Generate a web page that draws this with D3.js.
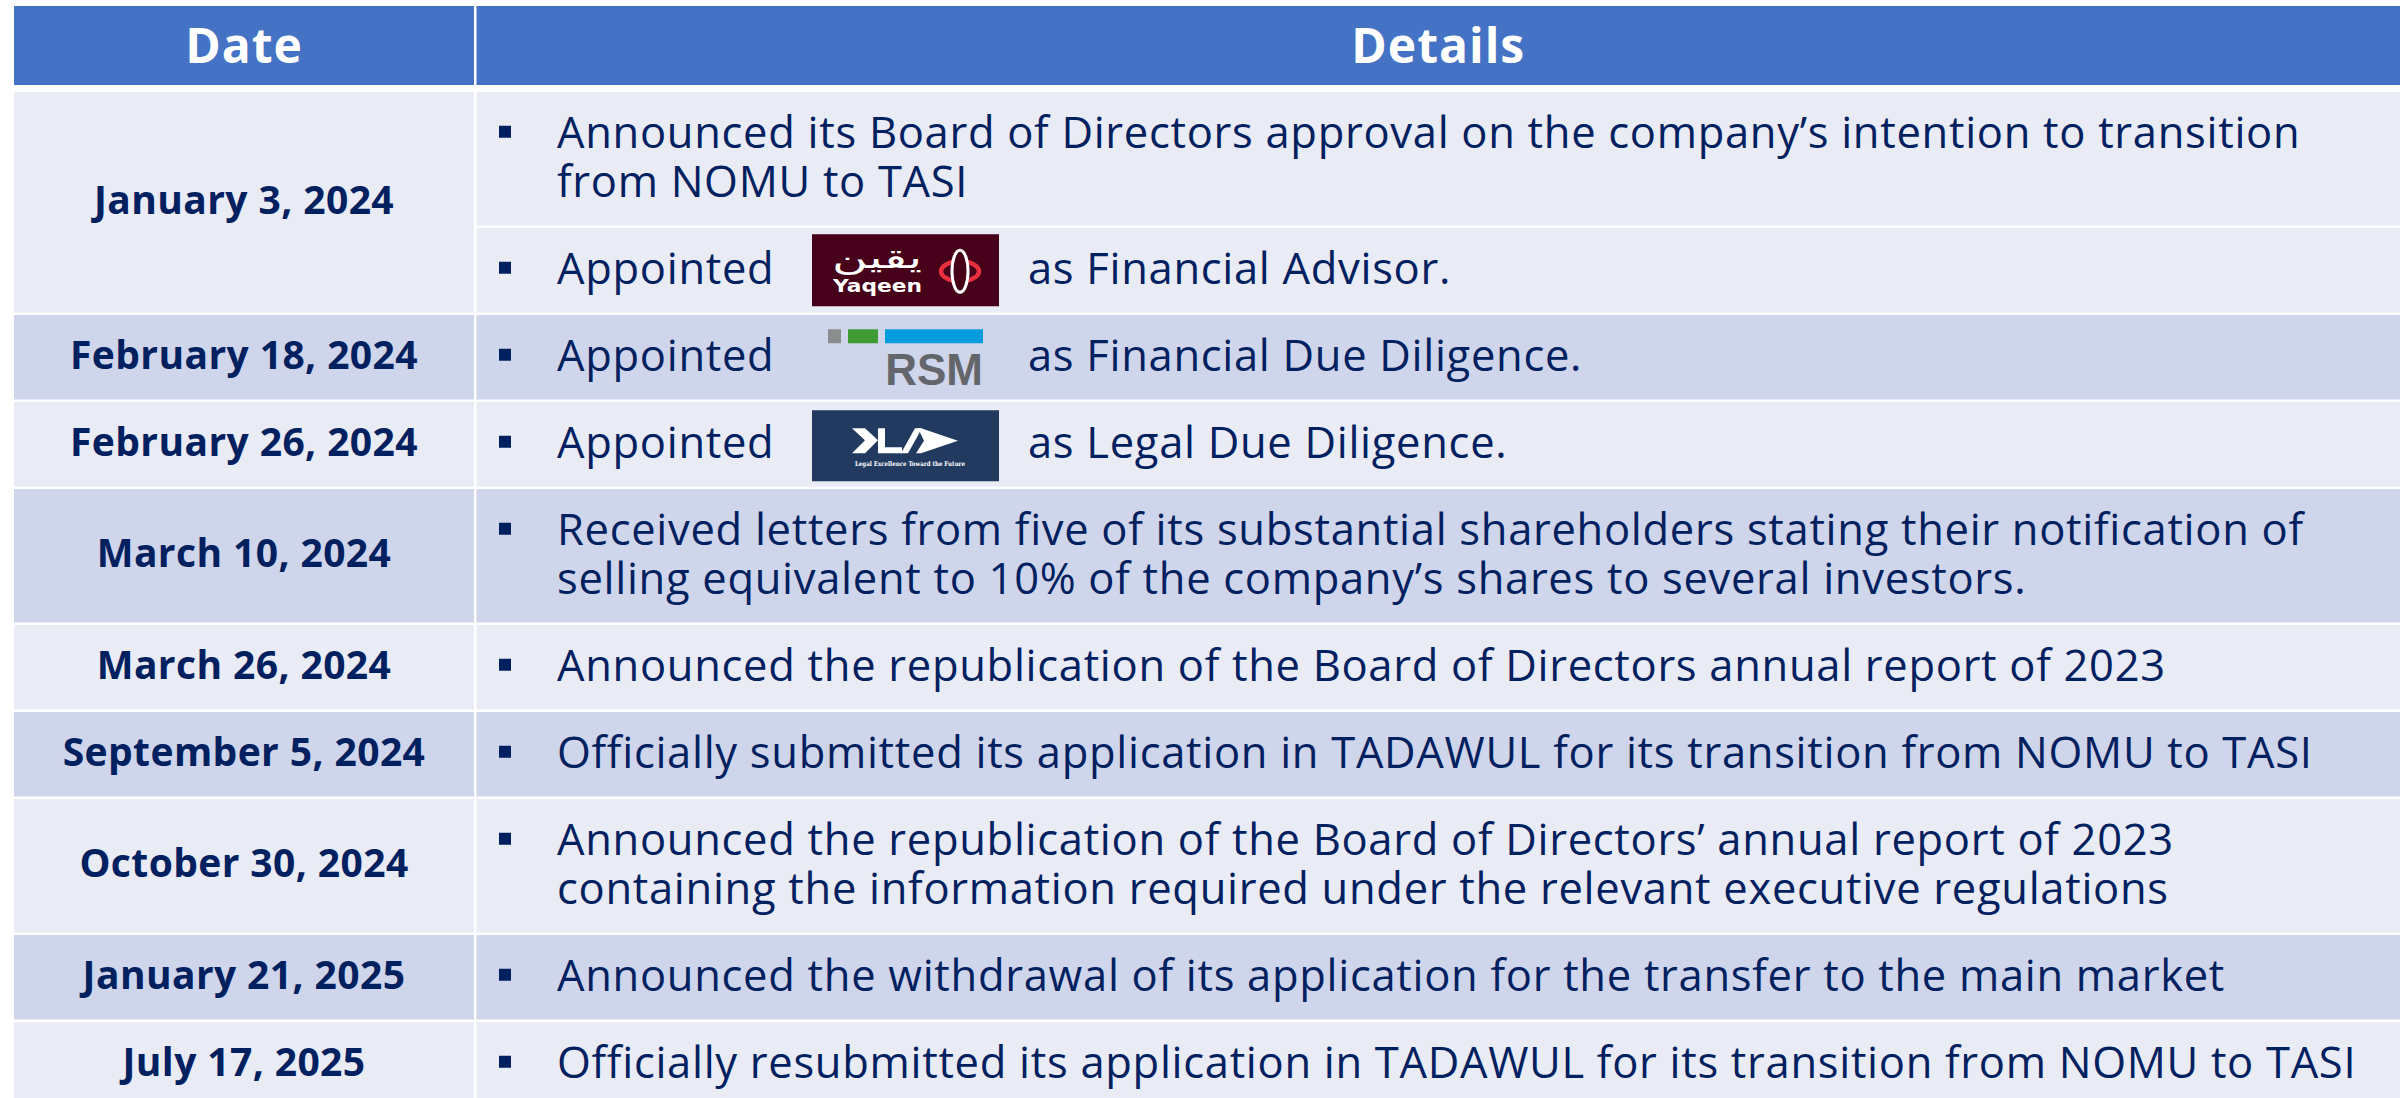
<!DOCTYPE html>
<html>
<head>
<meta charset="utf-8">
<script src="https://cdnjs.cloudflare.com/ajax/libs/d3/7.8.5/d3.min.js"></script>
<style>
    html, body { margin: 0; padding: 0; background: #fff; }
    svg { display: block; }
</style>
</head>
<body>
<div id="chart"></div>
<script>
const headers = ["Date", "Details"];

const dates = [
    "January 3, 2024",
    "February 18, 2024",
    "February 26, 2024",
    "March 10, 2024",
    "March 26, 2024",
    "September 5, 2024",
    "October 30, 2024",
    "January 21, 2025",
    "July 17, 2025"
];

// which date row each bullet belongs to
const itemRow = [0, 0, 1, 2, 3, 4, 5, 6, 7, 8];

// bullet text; for logo items it is [before logo, after logo]
const itemText = [
    ["Announced its Board of Directors approval on the company’s intention to transition", "from NOMU to TASI"],
    ["Appointed", "as Financial Advisor."],
    ["Appointed", "as Financial Due Diligence."],
    ["Appointed", "as Legal Due Diligence."],
    ["Received letters from five of its substantial shareholders stating their notification of", "selling equivalent to 10% of the company’s shares to several investors."],
    ["Announced the republication of the Board of Directors annual report of 2023"],
    ["Officially submitted its application in TADAWUL for its transition from NOMU to TASI"],
    ["Announced the republication of the Board of Directors’ annual report of 2023", "containing the information required under the relevant executive regulations"],
    ["Announced the withdrawal of its application for the transfer to the main market"],
    ["Officially resubmitted its application in TADAWUL for its transition from NOMU to TASI"]
];

const itemLogo = [null, "yaqeen", "rsm", "kla", null, null, null, null, null, null];

const W = 2402, H = 1098;
const left = 14, right = 2400, split = 474, gap = 2.5;
const headTop = 6, headBottom = 85, bodyTop = 92;
const lineGap = 49;
const navy = "#002060";
const shades = ["#E9EBF5", "#CFD5EA"];
const textFont = "'Open Sans', sans-serif";
const bodySize = "43.5px", bodySpacing = "0.7px";

const svg = d3.select("#chart")
    .append("svg")
    .attr("width", W)
    .attr("height", H);

// item heights from line counts
const nLines = itemText.map((t, i) => itemLogo[i] ? 1 : t.length);
const heights = nLines.map(n => 38 + lineGap * n);
const tops = [bodyTop];
heights.forEach((h, i) => tops.push(tops[i] + h));

const items = itemText.map((t, i) => ({
    i, text: t, logo: itemLogo[i], row: itemRow[i],
    y0: tops[i], y1: tops[i + 1], n: nLines[i]
}));

const rows = dates.map((d, r) => {
    const its = items.filter(it => it.row === r);
    return { date: d, r, y0: d3.min(its, it => it.y0), y1: d3.max(its, it => it.y1) };
});

const colX = d3.scaleOrdinal().domain(headers).range([left, split + gap]);
const colW = d3.scaleOrdinal().domain(headers).range([split - left, right - split - gap]);

// header
const head = svg.append("g");
head.selectAll("rect")
    .data(headers)
    .enter()
    .append("rect")
    .attr("x", d => colX(d))
    .attr("y", headTop)
    .attr("width", d => colW(d))
    .attr("height", headBottom - headTop)
    .attr("fill", "#4472C4");

head.selectAll("text")
    .data(headers)
    .enter()
    .append("text")
    .attr("x", d => colX(d) + colW(d) / 2)
    .attr("y", (headTop + headBottom) / 2 + 17)
    .attr("text-anchor", "middle")
    .attr("fill", "#fff")
    .style("font-family", textFont)
    .style("font-weight", 700)
    .style("font-size", "48px")
    .style("letter-spacing", "1px")
    .text(d => d);

// date cells
const dateG = svg.append("g");
dateG.selectAll("rect")
    .data(rows)
    .enter()
    .append("rect")
    .attr("x", colX("Date"))
    .attr("y", d => d.y0)
    .attr("width", colW("Date"))
    .attr("height", d => d.y1 - d.y0 - gap)
    .attr("fill", d => shades[d.r % 2]);

dateG.selectAll("text")
    .data(rows)
    .enter()
    .append("text")
    .attr("x", colX("Date") + colW("Date") / 2)
    .attr("y", d => (d.y0 + d.y1 - gap) / 2 + 11.5)
    .attr("text-anchor", "middle")
    .attr("fill", navy)
    .style("font-family", textFont)
    .style("font-weight", 700)
    .style("font-size", "39px")
    .style("letter-spacing", "0.4px")
    .text(d => d.date);

// detail cells
const detX = colX("Details");
const bulletX = 499, textX = 557, logoX = 812, afterX = 1028;

const cell = svg.append("g")
    .selectAll("g")
    .data(items)
    .enter()
    .append("g");

cell.append("rect")
    .attr("x", detX)
    .attr("y", d => d.y0)
    .attr("width", colW("Details"))
    .attr("height", d => d.y1 - d.y0 - gap)
    .attr("fill", d => shades[d.row % 2]);

// baseline of the first line
const firstBase = d => (d.y0 + d.y1 - gap) / 2 - (d.n - 1) * lineGap / 2 + 13.5;

cell.append("rect")
    .attr("x", bulletX)
    .attr("y", d => firstBase(d) - 22)
    .attr("width", 12)
    .attr("height", 12)
    .attr("fill", navy);

const txt = cell.filter(d => !d.logo)
    .append("text")
    .attr("fill", navy)
    .style("font-family", textFont)
    .style("font-size", bodySize)
    .style("letter-spacing", bodySpacing);

txt.selectAll("tspan")
    .data(d => d.text.map((s, k) => ({ s, k, base: firstBase(d) })))
    .enter()
    .append("tspan")
    .attr("x", textX)
    .attr("y", d => d.base + d.k * lineGap)
    .text(d => d.s);

const logoCells = cell.filter(d => d.logo);

logoCells.append("text")
    .attr("x", textX)
    .attr("y", d => firstBase(d))
    .attr("fill", navy)
    .style("font-family", textFont)
    .style("font-size", bodySize)
    .style("letter-spacing", bodySpacing)
    .text(d => d.text[0]);

logoCells.append("text")
    .attr("x", afterX)
    .attr("y", d => firstBase(d))
    .attr("fill", navy)
    .style("font-family", textFont)
    .style("font-size", bodySize)
    .style("letter-spacing", bodySpacing)
    .text(d => d.text[1]);

const logo = logoCells.append("g")
    .attr("transform", d => `translate(${logoX},${(d.y0 + d.y1 - gap) / 2 - 36})`);

// Yaqeen
const yq = logo.filter(d => d.logo === "yaqeen");
yq.append("rect").attr("width", 187).attr("height", 72).attr("fill", "#47001A");
yq.append("text")
    .attr("x", 20).attr("y", 34)
    .attr("textLength", 90)
    .attr("lengthAdjust", "spacingAndGlyphs")
    .attr("fill", "#fff")
    .style("font-family", "'DejaVu Sans', sans-serif")
    .style("font-size", "30px")
    .text("يقين");
yq.append("text")
    .attr("x", 21).attr("y", 58)
    .attr("textLength", 89)
    .attr("lengthAdjust", "spacingAndGlyphs")
    .attr("fill", "#fff")
    .style("font-family", "'DejaVu Sans', sans-serif")
    .style("font-weight", 700)
    .style("font-size", "18px")
    .text("Yaqeen");
yq.append("ellipse")
    .attr("cx", 148).attr("cy", 37).attr("rx", 19).attr("ry", 10)
    .attr("fill", "none").attr("stroke", "#E8303F").attr("stroke-width", 4.5);
yq.append("ellipse")
    .attr("cx", 148).attr("cy", 37).attr("rx", 8).attr("ry", 21)
    .attr("fill", "#47001A").attr("stroke", "#fff").attr("stroke-width", 3);

// RSM
const rsm = logo.filter(d => d.logo === "rsm");
rsm.append("rect").attr("x", 16).attr("y", 8).attr("width", 13).attr("height", 14).attr("fill", "#8A8C8E");
rsm.append("rect").attr("x", 36).attr("y", 8).attr("width", 30).attr("height", 14).attr("fill", "#3F9C35");
rsm.append("rect").attr("x", 73).attr("y", 8).attr("width", 98).attr("height", 14).attr("fill", "#009CDE");
rsm.append("text")
    .attr("x", 171).attr("y", 64)
    .attr("text-anchor", "end")
    .attr("fill", "#63666A")
    .style("font-family", "'Liberation Sans', Arial, sans-serif")
    .style("font-weight", 700)
    .style("font-size", "44px")
    .text("RSM");

// KLA
const kla = logo.filter(d => d.logo === "kla");
kla.append("rect").attr("y", 2).attr("width", 187).attr("height", 71).attr("fill", "#233A60");
kla.append("polygon")
    .attr("points", "40,20 53,20 66,32 53,45 40,45 53,32")
    .attr("fill", "#fff");
kla.append("polygon")
    .attr("points", "66,20 73,20 73,39 90,39 90,45 66,45")
    .attr("fill", "#fff");
kla.append("polygon")
    .attr("points", "89,45 96,45 110,20 103,20")
    .attr("fill", "#fff");
kla.append("polygon")
    .attr("points", "109,20 146,32.5 109,45 104,45 112,32.5 106,20")
    .attr("fill", "#fff");
kla.append("text")
    .attr("x", 43).attr("y", 58)
    .attr("textLength", 110)
    .attr("lengthAdjust", "spacingAndGlyphs")
    .attr("fill", "#fff")
    .style("font-family", "'DejaVu Serif', serif")
    .style("font-weight", 700)
    .style("font-size", "6.5px")
    .text("Legal Excellence Toward the Future");
</script>
</body>
</html>
